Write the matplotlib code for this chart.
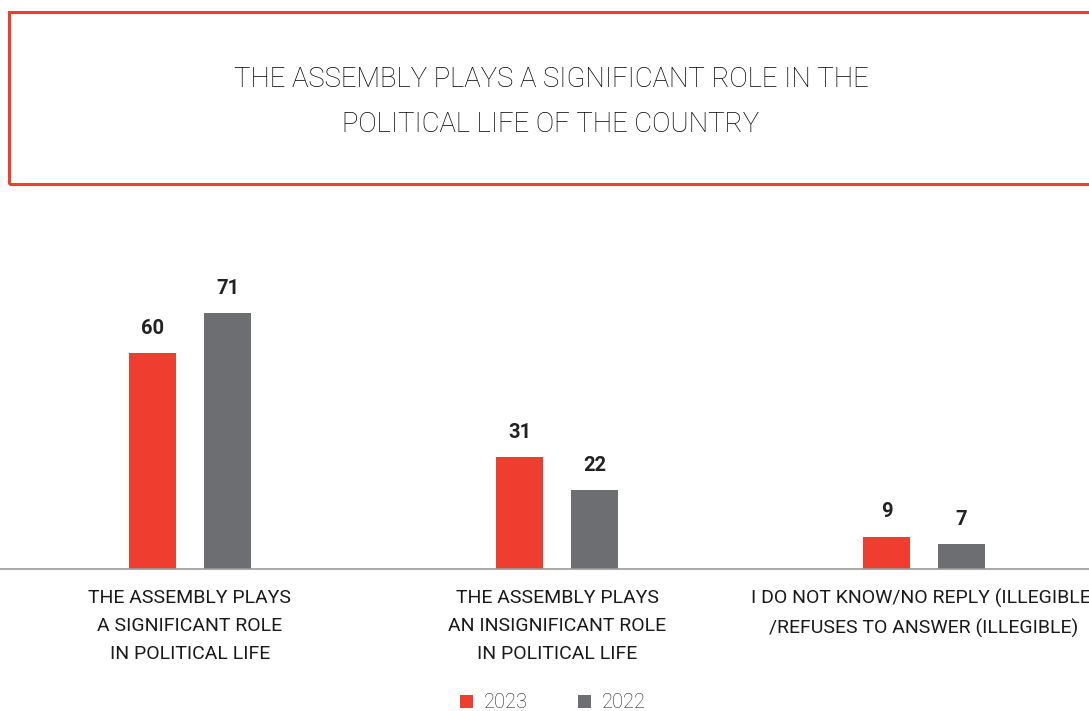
import matplotlib
matplotlib.use("Agg")
import matplotlib.pyplot as plt
from matplotlib.patches import Rectangle
import numpy as np

categories = ["THE ASSEMBLY PLAYS\nA SIGNIFICANT ROLE\nIN POLITICAL LIFE",
              "THE ASSEMBLY PLAYS\nAN INSIGNIFICANT ROLE\nIN POLITICAL LIFE",
              "I DO NOT KNOW/NO REPLY (ILLEGIBLE)\n/REFUSES TO ANSWER (ILLEGIBLE)"]
series_names = ["2023", "2022"]
values_2023 = [60, 31, 9]
values_2022 = [71, 22, 7]
title = "THE ASSEMBLY PLAYS A SIGNIFICANT ROLE IN THE\nPOLITICAL LIFE OF THE COUNTRY"

RED = "#ef3e2f"
GRAY = "#6d6e72"
plt.rcParams['font.family'] = ['Roboto', 'DejaVu Sans']

W, H = 1089, 711
fig = plt.figure(figsize=(W/100, H/100), dpi=100)

# title box
fig.patches.append(Rectangle((9/W, 1-184/H), 1.2, (184-12)/H, transform=fig.transFigure,
                             fill=False, edgecolor=RED, linewidth=2.2, clip_on=False))
fig.text(551/W, 1-102/H, title, ha='center', va='center', fontsize=19.8,
         fontweight='light', color='#000000', linespacing=1.85)

base_px = 569
top_px = 200
ax = fig.add_axes([0, 1-base_px/H, 1, (base_px-top_px)/H])
pxu = 367.0
ax.set_xlim(-190/pxu, (W-190)/pxu)
ax.set_ylim(0, (base_px-top_px)/3.6)
x = np.arange(len(categories))
bw = 47/pxu
off = 37.5/pxu
b1 = ax.bar(x-off, values_2023, bw, color=RED, label=series_names[0])
b2 = ax.bar(x+off, values_2022, bw, color=GRAY, label=series_names[1])
for bars in (b1, b2):
    for r in bars:
        ax.annotate(f"{int(r.get_height())}", (r.get_x()+r.get_width()/2, r.get_height()),
                    xytext=(0, 11), textcoords='offset points', ha='center', va='bottom',
                    fontsize=14.5, fontweight='bold', color='#222222')
for s in ['top', 'right', 'left']:
    ax.spines[s].set_visible(False)
ax.spines['bottom'].set_color('#9a9a9a')
ax.spines['bottom'].set_linewidth(1.2)
ax.set_yticks([])
ax.set_xticks(x)
ax.set_xticklabels(categories, fontsize=14, color='#1a1a1a', linespacing=1.72)
ax.tick_params(axis='x', length=0, pad=14.5)

leg = fig.legend(handles=[b1, b2], labels=series_names, loc='center', bbox_to_anchor=(553/W, 1-703/H),
                 ncol=2, frameon=False, fontsize=14.5, handlelength=0.65, handleheight=0.65,
                 columnspacing=2.5, handletextpad=0.55)
for t in leg.get_texts():
    t.set_color('#222222')
    t.set_fontweight('light')

fig.savefig("out.png", dpi=100)
